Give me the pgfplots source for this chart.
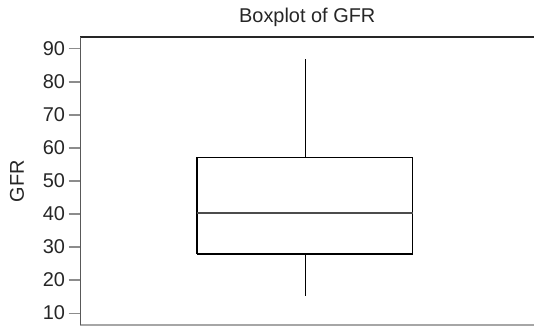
\documentclass[border=0pt]{standalone}
\usepackage{pgfplots}
\pgfplotsset{compat=1.18}
\usepackage{fontspec}
\setmainfont{Liberation Sans}
\begin{document}
\begin{tikzpicture}
\begin{axis}[
  scale only axis, width=453.5bp, height=288bp,
  xmin=0, xmax=1, ymin=6.4, ymax=93.6,
  xtick=\empty, ytick={10,20,...,90},
  tick align=outside, major tick length=12bp,
  ytick style={draw=gray!90, line width=1.2bp},
  tick label style={font=\fontsize{20}{24}\selectfont, black!85},
  /pgf/number format/assume math mode=true,
  axis line style={draw=none},
  title={Boxplot of GFR},
  title style={font=\fontsize{20}{24}\selectfont, black!85, yshift=1bp},
  ylabel={GFR},
  ylabel style={font=\fontsize{20}{24}\selectfont, black!85},
  ylabel shift=12bp,
  clip=false,
]
% GFR box: whiskers 15.2 / 87, quartiles 27.9 / 57, median 40.3
\addplot[black, line width=0.9bp] coordinates {(0.495,15.2) (0.495,27.9)};
\addplot[black, line width=0.9bp] coordinates {(0.495,57) (0.495,87)};
\addplot[black, line width=1.1bp, line join=miter] coordinates {
  (0.257,27.9) (0.733,27.9) (0.733,57) (0.257,57) (0.257,27.9)};
\addplot[black!70, line width=1.3bp] coordinates {(0.257,40.3) (0.733,40.3)};
\draw[black!85, line width=1.1bp] (rel axis cs:0,1) -- (rel axis cs:1,1);
\draw[gray!70, line width=1.1bp] (rel axis cs:0,0) -- (rel axis cs:1,0);
\draw[black!65, line width=1.5bp] (rel axis cs:0,0) -- (rel axis cs:0,1);
\coordinate (sw) at (rel axis cs:0,0);
\coordinate (ne) at (rel axis cs:1,1);
\end{axis}
\pgfresetboundingbox
\path[use as bounding box] ([xshift=-80.5bp,yshift=-1bp]sw) rectangle ([yshift=37bp]ne);
\end{tikzpicture}
\end{document}
